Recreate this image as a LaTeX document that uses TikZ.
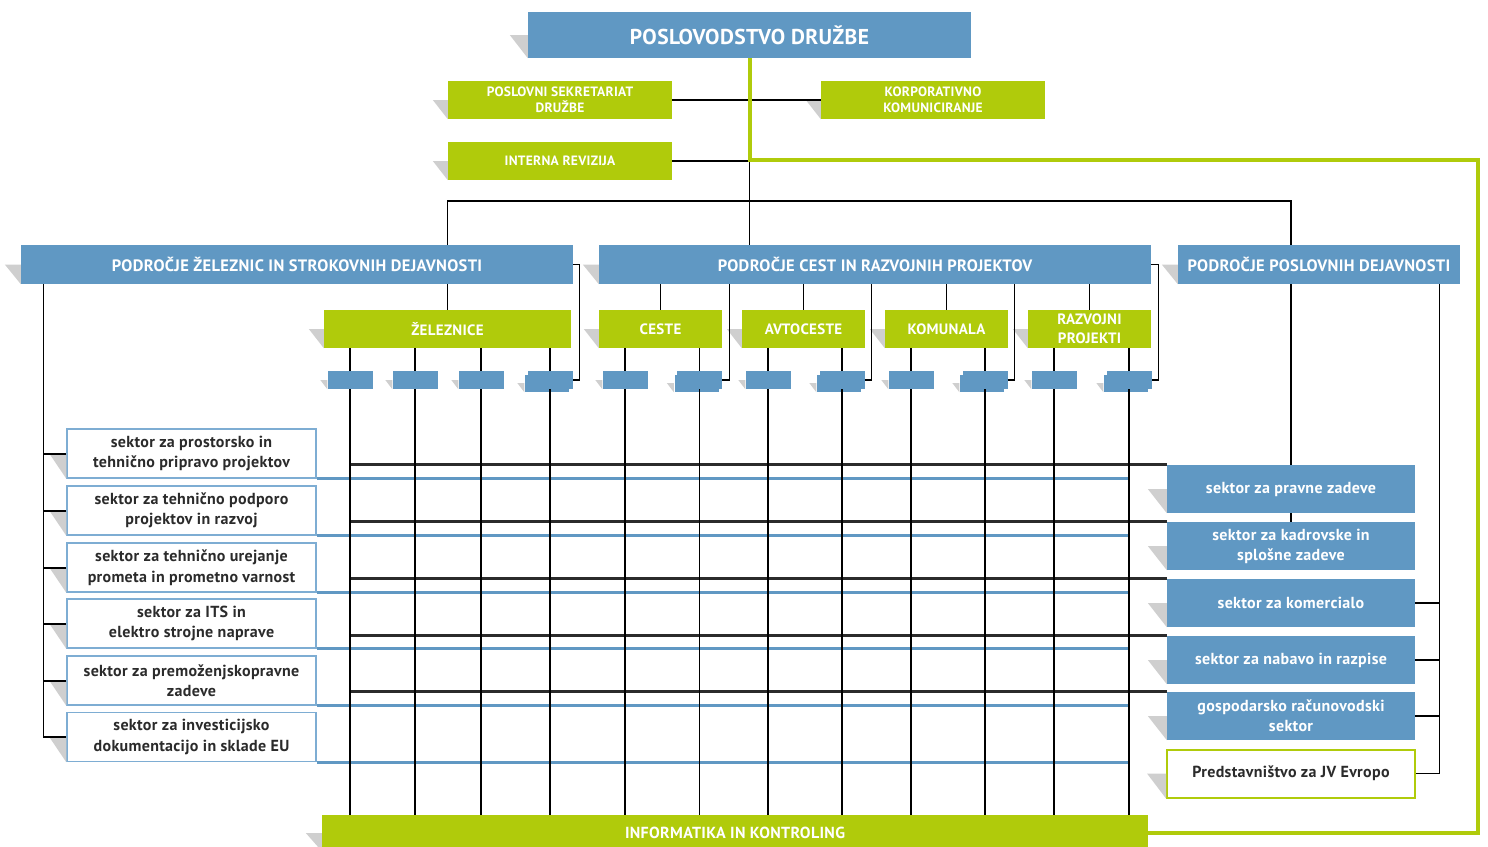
\documentclass[tikz,border=0pt]{standalone}
\usepackage{fontspec}
\setmainfont{PT Sans}[LetterSpace=2]
\usetikzlibrary{shadows}

\definecolor{boxblue}{HTML}{6098C3}
\definecolor{boxgreen}{HTML}{B0CB0B}
\definecolor{wedgegray}{HTML}{CFCFCF}
\definecolor{textdark}{HTML}{2B2B2B}
\definecolor{rimblue}{HTML}{7EADD3}

\begin{document}
\begin{tikzpicture}[x=1pt, y=-1pt,
  sz/.style 2 args={minimum width=#1pt, minimum height=#2pt},
  bluebox/.style={fill=boxblue, text=white, inner sep=0pt, align=center},
  greenbox/.style={fill=boxgreen, text=white, inner sep=0pt, align=center},
  sectorbox/.style={fill=white, draw=rimblue, line width=1.4pt, text=textdark, inner sep=0pt, align=center, sz={249}{49}, font=\bfseries\fontsize{16}{20.5}\selectfont},
  servicebox/.style={bluebox, sz={248}{48}, font=\bfseries\fontsize{16}{20}\selectfont},
  cell/.style={bluebox, sz={45}{18}},
  stacked/.style={general shadow={shadow xshift=-3pt, shadow yshift=-3pt, fill=boxblue, draw=white, line width=0.8pt}},
  thinline/.style={draw=black, line width=1.1pt},
  tickline/.style={draw=black, line width=2pt},
  barline/.style={draw=textdark, line width=3pt},
  blueline/.style={draw=boxblue, line width=2.6pt},
  greenline/.style={draw=boxgreen, line width=4pt}]
\useasboundingbox (0,0) rectangle (1488,846);

% top management
\node[bluebox, sz={443}{46}, font=\bfseries\fontsize{21.5}{24}\selectfont] (uprava) at (749.5,35) {POSLOVODSTVO DRUŽBE};
\node[greenbox, sz={224}{38}, font=\bfseries\fontsize{13.5}{16}\selectfont] (sekr) at (560,100) {POSLOVNI SEKRETARIAT\\DRUŽBE};
\node[greenbox, sz={224}{38}, font=\bfseries\fontsize{13.5}{16}\selectfont] (korp) at (933,100) {KORPORATIVNO\\KOMUNICIRANJE};
\node[greenbox, sz={224}{38}, font=\bfseries\fontsize{13.5}{16}\selectfont] (revizija) at (560,161) {INTERNA REVIZIJA};

% areas
\node[bluebox, sz={552}{39}, font=\bfseries\fontsize{16.5}{18}\selectfont] (zelpod) at (297,264.5) {PODROČJE ŽELEZNIC IN STROKOVNIH DEJAVNOSTI};
\node[bluebox, sz={552}{39}, font=\bfseries\fontsize{16.5}{18}\selectfont] (cestpod) at (875,264.5) {PODROČJE CEST IN RAZVOJNIH PROJEKTOV};
\node[bluebox, sz={282}{39}, font=\bfseries\fontsize{16.5}{18}\selectfont] (poslpod) at (1319,264.5) {PODROČJE POSLOVNIH DEJAVNOSTI};

% units
\node[greenbox, sz={247}{38}, font=\bfseries\fontsize{15}{19}\selectfont] (zel) at (447.5,329) {ŽELEZNICE};
\node[greenbox, sz={123}{38}, font=\bfseries\fontsize{15}{19}\selectfont] (ceste) at (660.5,329) {CESTE};
\node[greenbox, sz={123}{38}, font=\bfseries\fontsize{15}{19}\selectfont] (avto) at (803.5,329) {AVTOCESTE};
\node[greenbox, sz={123}{38}, font=\bfseries\fontsize{15}{19}\selectfont] (komun) at (946.5,329) {KOMUNALA};
\node[greenbox, sz={123}{38}, font=\bfseries\fontsize{15}{19}\selectfont] (razv) at (1089.5,329) {RAZVOJNI\\PROJEKTI};

% small cells
\foreach \n/\x in {z1/350, z2/415, z3/481, c1/625, a1/768, k1/911, r1/1054}
  \node[cell] (\n) at (\x,380) {};
\foreach \n/\x in {z4/550, c2/699.5, a2/842, k2/985, r2/1129}
  \node[cell, stacked] (\n) at (\x,380) {};

% left sectors
\node[sectorbox] (s1) at (191.5,453.5) {sektor za prostorsko in\\tehnično pripravo projektov};
\node[sectorbox] (s2) at (191.5,510.5) {sektor za tehnično podporo\\projektov in razvoj};
\node[sectorbox] (s3) at (191.5,567.5) {sektor za tehnično urejanje\\prometa in prometno varnost};
\node[sectorbox] (s4) at (191.5,623.5) {sektor za ITS in\\elektro strojne naprave};
\node[sectorbox] (s5) at (191.5,680.5) {sektor za premoženjskopravne\\zadeve};
\node[sectorbox] (s6) at (191.5,737) {sektor za investicijsko\\dokumentacijo in sklade EU};

% right sectors
\node[servicebox] (pravne) at (1291,489) {sektor za pravne zadeve};
\node[servicebox] (kadri) at (1291,546) {sektor za kadrovske in\\splošne zadeve};
\node[servicebox] (komerc) at (1291,603) {sektor za komercialo};
\node[servicebox] (nabava) at (1291,660) {sektor za nabavo in razpise};
\node[servicebox] (racun) at (1291,716) {gospodarsko računovodski\\sektor};
\node[fill=white, draw=boxgreen, line width=2pt, text=textdark, inner sep=0pt, sz={248}{48}, font=\bfseries\fontsize{16}{20}\selectfont] (jve) at (1291,773.5) {Predstavništvo za JV Evropo};

% bottom
\node[greenbox, sz={826}{36}, font=\bfseries\fontsize{16}{18}\selectfont] (info) at (735,833) {INFORMATIKA IN KONTROLING};

% gray wedges
\foreach \n/\w in {uprava/18, sekr/15, korp/15, revizija/15, zelpod/16, cestpod/16, poslpod/16,
    zel/15, ceste/15, avto/15, komun/15, razv/15, z1/7, z2/7, z3/7, c1/7, a1/7, k1/7, r1/7,
    s1/17, s2/17, s3/17, s4/17, s5/17, s6/17, pravne/19, kadri/19, komerc/19, nabava/19, racun/19, jve/19, info/16}
  \fill[wedgegray] ([xshift=-\w pt]\n.west) -- (\n.west) -- (\n.south west) -- cycle;
\foreach \n in {z4, c2, a2, k2, r2}
  \fill[wedgegray] ([xshift=-10pt, yshift=-3pt]\n.west) -- ([xshift=-3pt, yshift=-3pt]\n.west) -- ([xshift=-3pt, yshift=-3pt]\n.south west) -- cycle;

% management lines
\coordinate (gturn) at (1478,160);
\coordinate (bus) at (749.5,201);
\draw[thinline] (sekr.east) -- (korp.west);
\draw[thinline] (revizija.east) -- (revizija.east -| uprava.south);
\draw[thinline] (uprava.south) -- (uprava.south |- cestpod.north);
\draw[thinline] (zel |- zelpod.north) |- (bus) -| (pravne |- poslpod.north);
\draw[greenline] (uprava.south) |- (gturn) |- (info.east);

% areas to units
\draw[thinline] (zel |- zelpod.south) -- (zel.north);
\foreach \u in {ceste, avto, komun, razv}
  \draw[thinline] (\u |- cestpod.south) -- (\u.north);
\foreach \u/\c in {zel/z1, zel/z2, zel/z3, zel/z4, ceste/c1, ceste/c2, avto/a1, avto/a2, komun/k1, komun/k2, razv/r1, razv/r2}
  \draw[thinline] (\c |- \u.south) -- (\c.north);
\draw[thinline] (zelpod.east) -- ++(6,0) |- (z4.east);
\draw[thinline] (cestpod.east) -- ++(7,0) |- (r2.east);
\foreach \c in {c2, a2, k2}
  \draw[thinline] (\c.east) -| ([xshift=7pt]\c.east |- cestpod.south);

% matrix
\foreach \s in {s1, s2, s3, s4, s5, s6}
  \draw[blueline] (\s.south east) -- (\s.south east -| r2);
\foreach \b in {pravne, kadri, komerc, nabava, racun}
  \draw[barline] (\b.north west -| z1) -- (\b.north west);
\foreach \c in {z1, z2, z3, z4, c1, c2, a1, a2, k1, k2, r1, r2}
  \draw[thinline] (\c.south) -- (\c |- info.north);

% left spine
\coordinate (lspine) at ([xshift=23pt]zelpod.south west);
\draw[thinline] (lspine) |- (s6.west);
\foreach \s in {s1, s2, s3, s4, s5, s6}
  \draw[tickline] (\s.west) -- (\s.west -| lspine);

% right spine
\coordinate (rspine) at ([xshift=-21pt]poslpod.south east);
\draw[thinline] (pravne |- poslpod.south) -- (pravne.north);
\draw[thinline] (pravne.south) -- (kadri.north);
\draw[thinline] (rspine) |- (jve.east);
\foreach \b in {komerc, nabava, racun}
  \draw[thinline] (\b.east) -- (\b.east -| rspine);
\end{tikzpicture}
\end{document}
